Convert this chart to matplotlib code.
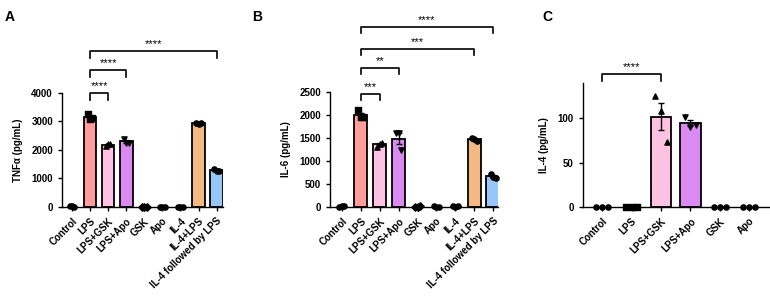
import matplotlib.pyplot as plt
import numpy as np

plt.rcParams['font.family'] = ['Liberation Sans', 'DejaVu Sans']
plt.rcParams['font.weight'] = 'bold'

# panel A / B groups
groups_ab = ["Control", "LPS", "LPS+GSK", "LPS+Apo", "GSK", "Apo", "IL-4",
             "IL-4+LPS", "IL-4 followed by LPS"]
tnf_pts = [[20, 25, 15], [3250, 3100, 3130], [2150, 2200, 2200], [2400, 2250, 2250],
           [10, 12, 8], [15, 10, 12], [15, 12, 10], [2950, 2920, 2930], [1350, 1250, 1250]]
il6_pts = [[10, 15, 12], [2100, 1950, 1960], [1300, 1380, 1400], [1600, 1600, 1250],
           [8, 10, 12], [12, 10, 8], [12, 10, 14], [1500, 1480, 1430], [720, 650, 640]]

# panel C groups
groups_c = ["Control", "LPS", "LPS+GSK", "LPS+Apo", "GSK", "Apo"]
il4_pts = [[0, 0, 0], [0, 0, 0], [125, 108, 73], [101, 90, 92], [0, 0, 0], [0, 0, 0]]

colors_ab = ["white", "#FF9C9C", "#FFC2E2", "#DA8BF2", "white", "white", "white",
             "#F4B882", "#98C6FA"]
colors_c = ["white", "white", "#FFC2E2", "#DA8BF2", "white", "white"]
markers_ab = ["o", "s", "^", "v", "D", "o", "o", "o", "o"]
markers_c = ["o", "s", "^", "v", "o", "o"]

# brackets: (i, j, y, text)
br_a = [(1, 2, 4000, "****"), (1, 3, 4800, "****"), (1, 8, 5480, "****")]
br_b = [(1, 2, 2450, "***"), (1, 3, 3020, "**"), (1, 7, 3430, "***"), (1, 8, 3910, "****")]
br_c = [(0, 2, 150, "****")]

fig = plt.figure(figsize=(7.7, 2.97), dpi=100)
axA = fig.add_axes([0.0805, 0.303, 0.209, 0.384])
axB = fig.add_axes([0.4286, 0.303, 0.2184, 0.387])
axC = fig.add_axes([0.757, 0.303, 0.243, 0.418])


def panel(ax, groups, pts, colors, markers, ylim, yticks, ylabel, brackets, leg, xlim, jit):
    x = np.arange(len(groups))
    means = [np.mean(p) for p in pts]
    sems = [np.std(p, ddof=1) / np.sqrt(len(p)) for p in pts]
    for i in range(len(groups)):
        if means[i] > ylim[1] * 0.02:
            ax.bar(x[i], means[i], width=0.7, color=colors[i], edgecolor="black",
                   linewidth=1.3, zorder=2)
            ax.errorbar(x[i], means[i], yerr=sems[i], color="black", capsize=2.5,
                        elinewidth=1, capthick=1, zorder=3)
        off = np.array([-jit, 0.0, jit])
        ax.scatter(x[i] + off, pts[i], s=14, marker=markers[i], color="black",
                   zorder=4, clip_on=False)
    ax.set_xlim(*xlim)
    ax.set_ylim(*ylim)
    ax.set_yticks(yticks)
    ax.set_xticks(x)
    ax.set_xticklabels(groups, rotation=45, ha="right", rotation_mode="anchor",
                       fontsize=7, fontweight="bold")
    ax.tick_params(axis="y", labelsize=7, width=1, length=3)
    ax.tick_params(axis="x", width=1, length=3)
    for lab in ax.get_yticklabels():
        lab.set_fontweight("bold")
    ax.set_ylabel(ylabel, fontsize=7, fontweight="bold", labelpad=6)
    ax.spines["top"].set_visible(False)
    ax.spines["right"].set_visible(False)
    ax.spines["left"].set_linewidth(1)
    ax.spines["bottom"].set_linewidth(1)
    for i, j, y, t in brackets:
        ax.plot([x[i], x[i], x[j], x[j]], [y - leg, y, y, y - leg], color="black",
                lw=1.2, clip_on=False)
        ax.text((x[i] + x[j]) / 2, y + leg * 0.3, t, ha="center", va="bottom",
                fontsize=8, fontweight="normal")


panel(axA, groups_ab, tnf_pts, colors_ab, markers_ab, (0, 4000), [0, 1000, 2000, 3000, 4000],
      "TNF\u03b1 (pg/mL)", br_a, 240, (-0.55, 8.35), 0.13)
panel(axB, groups_ab, il6_pts, colors_ab, markers_ab, (0, 2500), [0, 500, 1000, 1500, 2000, 2500],
      "IL-6 (pg/mL)", br_b, 130, (-0.63, 8.27), 0.13)
panel(axC, groups_c, il4_pts, colors_c, markers_c, (0, 140), [0, 50, 100],
      "IL-4 (pg/mL)", br_c, 8, (-0.65, 5.7), 0.2)

fig.text(0.006, 0.965, "A", fontsize=10, fontweight="bold", va="top")
fig.text(0.327, 0.965, "B", fontsize=10, fontweight="bold", va="top")
fig.text(0.705, 0.965, "C", fontsize=10, fontweight="bold", va="top")

fig.savefig("out.png", dpi=100)
